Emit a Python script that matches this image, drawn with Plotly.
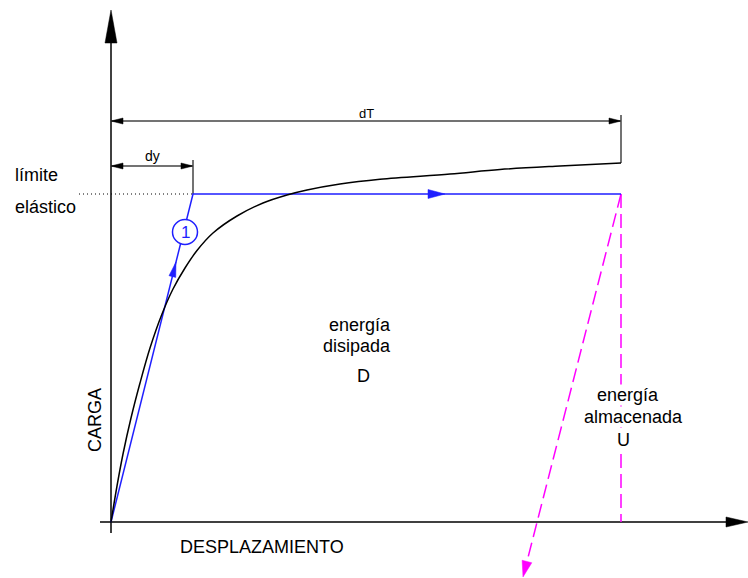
import math
import plotly.graph_objects as go

# ---- data (displacement / load in drawing units) ----
curve_x = [0, 6, 12, 20, 29, 39, 51, 62, 74, 86, 102, 126, 152, 176, 196, 229, 269, 339, 389, 449, 510]
curve_y = [0, 36, 68, 104, 139, 174, 208, 233, 254, 271.5, 289, 306, 319, 327, 332, 338, 342.8, 348, 352.5, 356, 359]

bilinear_x = [0, 82, 510]
bilinear_y = [0, 328, 328]

dy_disp = 82
dT_disp = 510
yield_load = 328
unload_end = (412, -55)

dim_dT_level = 401
dim_dy_level = 356

labels_main = ["energía", "disipada", "D"]
labels_store = ["energía", "almacenada", "U"]

BLUE = "#1f1fff"
MAG = "#ff00ff"
DIM = "#444444"
FONT = "Liberation Sans, Arial, sans-serif"


def head(tip, frm, length, half):
    tx, ty = tip
    fx, fy = frm
    d = math.hypot(tx - fx, ty - fy)
    ux, uy = (tx - fx) / d, (ty - fy) / d
    bx, by = tx - ux * length, ty - uy * length
    nx, ny = -uy, ux
    return ([tx, bx + nx * half, bx - nx * half, tx],
            [ty, by + ny * half, by - ny * half, ty], (bx, by))


fig = go.Figure()


def line(xs, ys, color, width=1.5, dash=None):
    fig.add_trace(go.Scatter(x=xs, y=ys, mode="lines",
                             line=dict(color=color, width=width, dash=dash),
                             hoverinfo="skip", showlegend=False))


def tri(tip, frm, length, half, color):
    xs, ys, base = head(tip, frm, length, half)
    fig.add_trace(go.Scatter(x=xs, y=ys, mode="lines", fill="toself",
                             fillcolor=color, line=dict(color=color, width=0.5),
                             hoverinfo="skip", showlegend=False))
    return base


# axes
yb = tri((0, 512), (0, 0), 33, 6, "black")
line([0, 0], [-11, yb[1]], "black", 1.5)
xb = tri((637, 0), (0, 0), 22, 5, "black")
line([-11, xb[0]], [0, 0], "black", 1.5)

# dotted yield level
line([-32, dy_disp], [yield_load, yield_load], "black", 1, "1px,3px")

# dimension lines
line([0, dT_disp], [dim_dT_level, dim_dT_level], DIM, 1.5)
tri((0, dim_dT_level), (dT_disp, dim_dT_level), 12, 3, "black")
tri((dT_disp, dim_dT_level), (0, dim_dT_level), 12, 3, "black")
line([dT_disp, dT_disp], [407, 359], DIM, 1.5)

line([0, dy_disp], [dim_dy_level, dim_dy_level], DIM, 1.5)
tri((0, dim_dy_level), (dy_disp, dim_dy_level), 12, 3, "black")
tri((dy_disp, dim_dy_level), (0, dim_dy_level), 12, 3, "black")
line([dy_disp, dy_disp], [362, yield_load], DIM, 1.5)

# magenta unloading lines
line([dT_disp, dT_disp], [yield_load, 0], MAG, 1.5, "14px,6px")
mb = tri(unload_end, (dT_disp, yield_load), 16, 5, MAG)
line([dT_disp, mb[0]], [yield_load, mb[1]], MAG, 1.5, "14px,6px")

# blue bilinear
line(bilinear_x, bilinear_y, BLUE, 1.5)
tri((65, 260), (0, 0), 15, 3.5, BLUE)
tri((334, yield_load), (0, yield_load), 17, 4.5, BLUE)

# black curve
fig.add_trace(go.Scatter(x=curve_x, y=curve_y, mode="lines",
                         line=dict(color="black", width=1.5, shape="spline", smoothing=1.0),
                         hoverinfo="skip", showlegend=False))

# circle "1"
cx, cy, r = 74, 290, 12.5
fig.add_shape(type="circle", x0=cx - r, x1=cx + r, y0=cy - r, y1=cy + r,
              line=dict(color=BLUE, width=1.5), fillcolor="white", layer="above")


def text(x, y, s, size=18, color="black", xanchor="center", angle=0, bg=None):
    fig.add_annotation(x=x, y=y, text=s, showarrow=False, xanchor=xanchor,
                       yanchor="middle", textangle=angle,
                       font=dict(family=FONT, size=size, color=color),
                       bgcolor=bg, borderpad=0)


text(cx, cy, "1", 17, BLUE)
text(255, 409, "dT", 13)
text(41, 366, "dy", 14)
text(-97, 347, "límite", 18, xanchor="left")
text(-97, 315, "elástico", 18, xanchor="left")
text(-16, 102, "CARGA", 18, angle=-90)
text(151, -25, "DESPLAZAMIENTO", 18)

for s, (x, y) in zip(labels_main, [(249, 197), (246, 176), (252, 146)]):
    text(x, y, s, 18)
for s, (x, y) in zip(labels_store, [(517, 127), (522, 105), (512, 82)]):
    text(x, y, s, 18, bg="white")

fig.update_layout(
    width=748, height=578, autosize=False,
    margin=dict(l=0, r=0, t=0, b=0),
    paper_bgcolor="white", plot_bgcolor="white",
    xaxis=dict(range=[-111, 637], visible=False, fixedrange=True),
    yaxis=dict(range=[-56, 522], visible=False, fixedrange=True),
    showlegend=False,
)

fig.write_html("out.html", config={"displayModeBar": False},
               post_script="document.body.style.margin='0';document.body.style.overflow='hidden';")
